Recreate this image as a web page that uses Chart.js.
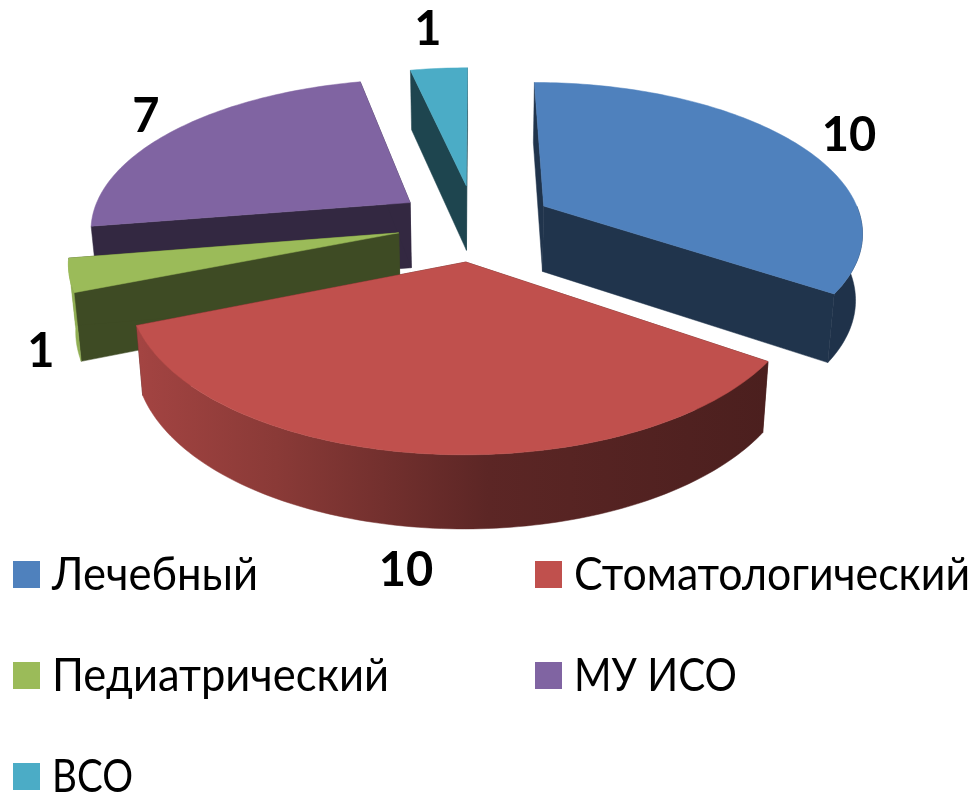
<!DOCTYPE html>
<html>
<head>
<meta charset="utf-8">
<script src="https://cdn.jsdelivr.net/npm/chart.js@4"></script>
<style>html,body{margin:0;padding:0;background:#fff}canvas{display:block}</style>
</head>
<body>
<canvas id="c" width="973" height="792"></canvas>
<script>
const categories = ['Лечебный','Стоматологический','Педиатрический','МУ ИСО','ВСО'];
const values = [10,10,1,7,1];
const colors = ['#4f81bd','#c0504d','#9bbb59','#8064a2','#4bacc6'];
const explode = [85,87,84,86,90];
const sliceScale = [0.975,0.975,0.98,0.98,0.97];
const paintOrder = [4,3,2,0,1];
const valueLabelPos = [[849,136],[406,571],[41,352],[146,117],[428,30]];
const legendPos = [[13,561,206],[535,561,396],[13,662,337],[535,662,163],[13,763,81]];

const view = {cx:475, cy:223, a:327, b:152, k:0.163, h:66, hk:0.09, shrink:0.982};
function project(u,v,bottom){
  const d = 1 - view.k*v;
  let x = view.cx + view.a*u/d, y = view.cy + view.b*v/d;
  if(bottom){ x = view.cx + (x-view.cx)*view.shrink; y += view.h/(1-view.hk*v); }
  return [x,y];
}
function hexShade(hex,f){
  const n = parseInt(hex.slice(1),16);
  return `rgb(${Math.round((n>>16&255)*f)},${Math.round((n>>8&255)*f)},${Math.round((n&255)*f)})`;
}
function poly(ctx,pts,fill){
  ctx.beginPath();
  pts.forEach((p,i)=> i?ctx.lineTo(p[0],p[1]):ctx.moveTo(p[0],p[1]));
  ctx.closePath();
  ctx.fillStyle = fill; ctx.strokeStyle = fill; ctx.lineWidth = 0.5;
  ctx.fill(); ctx.stroke();
}
const pie3d = {
  id:'pie3d',
  beforeDatasetDraw(){ return false; },
  afterDatasetsDraw(chart){
    const ctx = chart.ctx, arcs = chart.getDatasetMeta(0).data;
    ctx.save();
    paintOrder.forEach(i=>{
      const arc = arcs[i], col = colors[i], rs = sliceScale[i];
      const {startAngle:s,endAngle:e,outerRadius:r} = arc.getProps(['startAngle','endAngle','outerRadius']);
      const m = (s+e)/2, off = arc.options.offset/r;
      const ou = off*Math.cos(m), ov = off*Math.sin(m);
      const n = Math.max(4,Math.ceil((e-s)/0.02));
      const top=[], bot=[], rimT=[], rimB=[];
      for(let j=0;j<=n;j++){
        const t = s+(e-s)*j/n, u = ou+rs*Math.cos(t), v = ov+rs*Math.sin(t);
        const pt = project(u,v,false), pb = project(u,v,true);
        top.push(pt); bot.push(pb);
        if(Math.sin(t) > (Math.cos(t)<0 ? 0.17 : -0.02)){ rimT.push(pt); rimB.push(pb); }
      }
      const at = project(ou,ov,false), ab = project(ou,ov,true);
      const dark = hexShade(col,0.4);
      poly(ctx,[at,top[0],bot[0],ab],dark);
      poly(ctx,[at,top[n],bot[n],ab],dark);
      if(rimT.length>1){
        const g = ctx.createLinearGradient(65,0,770,0);
        [[0,0.95],[0.12,0.84],[0.3,0.72],[0.6,0.48],[1,0.39]].forEach(st=>g.addColorStop(st[0],hexShade(col,st[1])));
        poly(ctx,rimT.concat(rimB.slice().reverse()),g);
      }
      poly(ctx,[at].concat(top),col);
    });
    ctx.fillStyle='#000'; ctx.textBaseline='alphabetic'; ctx.textAlign='left';
    ctx.font='46px Lato';
    categories.forEach((name,i)=>{
      const [x,y,w] = legendPos[i];
      ctx.fillStyle = colors[i];
      ctx.fillRect(x,y,27,27);
      ctx.fillStyle = '#000';
      ctx.fillText(name,x+39,y+29,w);
    });
    ctx.font='bold 47px Lato'; ctx.textAlign='center'; ctx.textBaseline='middle';
    values.forEach((val,i)=> ctx.fillText(String(val),valueLabelPos[i][0],valueLabelPos[i][1]));
    ctx.restore();
  }
};
new Chart(document.getElementById('c'),{
  type:'pie',
  data:{labels:categories,datasets:[{data:values,backgroundColor:colors,borderWidth:0,offset:explode}]},
  options:{responsive:false,animation:false,plugins:{legend:{display:false},tooltip:{enabled:false}}},
  plugins:[pie3d]
});
</script>
</body>
</html>
